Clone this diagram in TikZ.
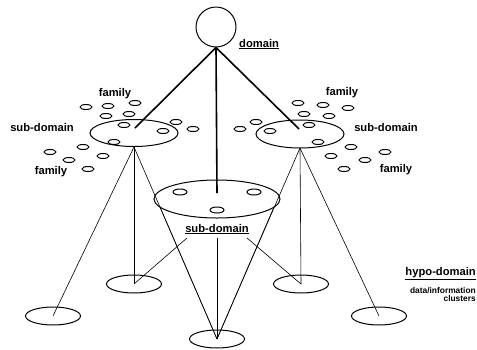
\documentclass[tikz,border=0pt]{standalone}
\usepackage{fontspec}
\setmainfont{Liberation Sans}
\usetikzlibrary{shapes.geometric}
\begin{document}
\begin{tikzpicture}[x=1pt,y=-1pt,
  stem/.style={line width=1.6pt},
  link/.style={line width=0.6pt},
  region/.style={draw, ellipse, line width=1pt, inner sep=0pt},
  hypo/.style={region, minimum width=55pt, minimum height=18pt},
  fam/.style={draw, ellipse, line width=1pt, inner sep=0pt, minimum width=12pt, minimum height=5pt},
  lbl/.style={font=\fontsize{11.2}{13}\selectfont\bfseries, inner sep=0pt},
  smalllbl/.style={font=\fontsize{8.4}{8.5}\selectfont\bfseries, inner sep=0pt, align=right}]
\useasboundingbox (0,0) rectangle (477,349);

% domain
\node[draw, circle, minimum size=40pt, line width=1pt, inner sep=0pt] (dom) at (216,27) {};

% sub-domains
\node[region, minimum width=88pt, minimum height=27pt] (lsub) at (134,133) {};
\node[region, minimum width=88pt, minimum height=28pt] (rsub) at (300,134) {};
\node[region, minimum width=126pt, minimum height=38pt] (csub) at (217,199) {};

% hypo-domains
\node[hypo] (h1) at (53,316) {};
\node[hypo] (h2) at (134,284) {};
\node[hypo] (h3) at (217,339) {};
\node[hypo] (h4) at (301,284) {};
\node[hypo] (h5) at (379,316) {};

% end points of the stems
\coordinate (lend) at (135,128);
\coordinate (rend) at (299,129);
\coordinate (cend) at (217,193);
\draw[stem] (dom.south) -- (lend);
\draw[stem] (dom.south) -- (rend);
\draw[stem] (dom.south) -- (cend);

% left sub-domain to hypo-domains
\coordinate (lfoot) at (134,147);
\draw[link] (lfoot) -- (h1.center);
\draw[link] (lfoot) -- (h2.center);
\draw[link] (lfoot) -- (h3.center);

% right sub-domain to hypo-domains
\coordinate (rfoot) at (300,148);
\draw[link] (rfoot) -- (h4.center);
\draw[link] (rfoot) -- (h5.center);
\draw[link] (rfoot) -- (h3.center);

% centre sub-domain to hypo-domains
\coordinate (cleft) at (160,207);
\coordinate (cright) at (274,207);
\draw[link] (cleft) -- (h3.center);
\draw[link] (cright) -- (h3.center);
\node[lbl] (csubl) at (217,229) {\underline{sub-domain}};
\coordinate (cl) at (187,238);
\coordinate (cr) at (247,238);
\coordinate (cb) at (217,238);
\draw[link] (cl) -- (h2.center);
\draw[link] (cr) -- (h4.center);
\draw[link] (cb) -- (h3.center);

% families
\foreach \x/\y [count=\i] in {86/107,108/106,135/103,106/116,129/114,124/125,163/131,176/122,193/129,114/142,83/147,50/152,69/160,103/156,88/169,
  298/103,323/105,348/108,304/114,329/116,309/125,270/131,256/122,240/129,318/142,351/147,385/152,331/156,365/160,344/169}
  \node[fam] (fa\i) at (\x,\y) {};
\node[fam, minimum width=14pt, minimum height=6pt] (fc1) at (180,192) {};
\node[fam, minimum width=14pt, minimum height=6pt] (fc2) at (254,192) {};
\node[fam, minimum width=14pt, minimum height=6pt] (fc3) at (217,210) {};

% labels
\node[lbl, anchor=west] (doml) at (239,44) {\underline{domain}};
\node[lbl] (famtl) at (115,94) {family};
\node[lbl] (lsubl) at (42,127) {sub-domain};
\node[lbl] (fambl) at (51,172) {family};
\node[lbl] (famtr) at (342,93) {family};
\node[lbl] (rsubl) at (386,127) {sub-domain};
\node[lbl] (fambr) at (396,170) {family};
\node[lbl, anchor=east] (hypol) at (476,274) {\underline{hypo-domain}};
\node[smalllbl, anchor=north east] (clus) at (476,287) {data/information\\clusters};
\end{tikzpicture}
\end{document}
